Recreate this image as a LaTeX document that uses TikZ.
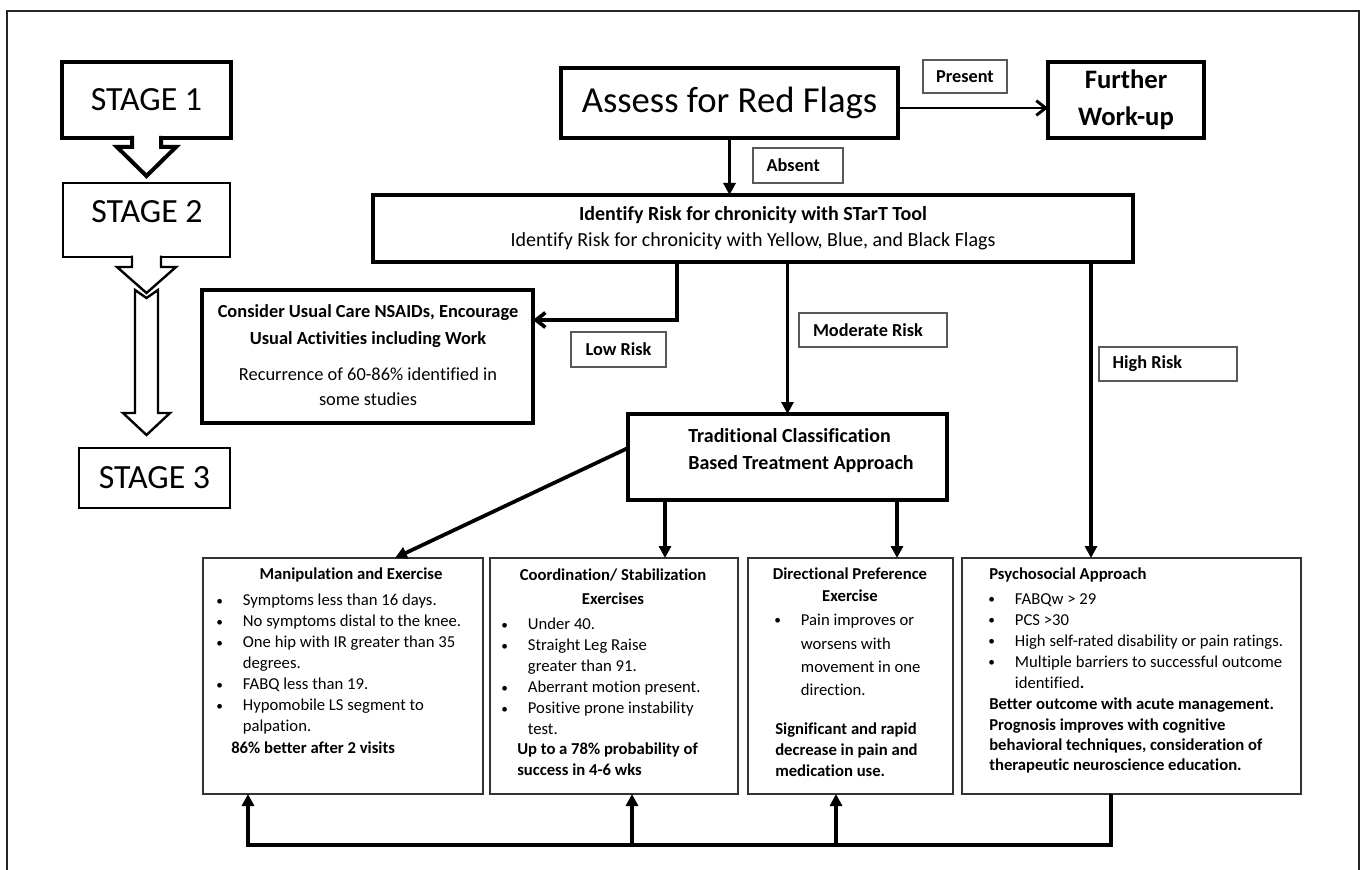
\documentclass[tikz,border=0pt]{standalone}
\usepackage{fontspec}
\setmainfont{Carlito}[Ligatures = NoCommon]
\usetikzlibrary{arrows.meta}

\newcommand{\bul}{\makebox[20pt][l]{\raisebox{0.6pt}{\fontsize{10}{10}\selectfont\textbullet}}}
\newcommand{\cont}{\hspace*{20pt}}

\begin{document}
\begin{tikzpicture}[
        x = 0.75pt, y = -0.75pt,
        corners/.style n args = {4}{
            at = {({(#1+#3)/2},{(#2+#4)/2})},
            minimum width = {(#3-#1)*0.75pt},
            minimum height = {(#4-#2)*0.75pt}
        },
        mainbox/.style = {
            draw,
            rectangle,
            line width = #1,
            inner sep = 0pt,
            outer sep = 0pt
        },
        mainbox/.default = 3.2pt,
        stagebox/.style = {
            draw,
            rectangle,
            line width = #1,
            inner sep = 0pt,
            outer sep = 0pt,
            font = \fontsize{25.4}{30}\selectfont
        },
        stagebox/.default = 1.8pt,
        tagbox/.style = {
            draw = black!65,
            rectangle,
            line width = 1.1pt,
            inner sep = 0pt,
            outer sep = 0pt,
            font = \fontsize{13.7}{16}\selectfont\bfseries
        },
        tagleft/.style = {text width = #1, align = flush left},
        infobox/.style = {
            draw = black!80,
            rectangle,
            line width = 1.4pt,
            inner sep = 0pt,
            outer sep = 0pt
        },
        listtext/.style = {
            inner sep = 0pt,
            align = left,
            anchor = north west,
            font = \fontsize{12.5}{#1}\selectfont
        },
        listtext/.default = 15.75pt,
        titletext/.style = {
            inner sep = 0pt,
            align = center,
            font = \fontsize{12.5}{#1}\selectfont\bfseries
        },
        titletext/.default = 18pt,
        flow/.style = {line width = 2.8pt, -{Triangle[length = 9pt, width = 9pt]}},
        barbflow/.style = {line width = #1, -{Straight Barb[length = 7pt, width = 11pt]}},
        barbflow/.default = 2.2pt,
        blockarrow/.style = {fill = white, line width = #1, line join = miter},
        blockarrow/.default = 1.8pt
        ]
%
        \useasboundingbox (0,0) rectangle (1364,870);
        \draw[line width = 2.2pt, black!85] (7,876) -- (7,11) -- (1359,11) -- (1359,876);
%
% stages on the left
        \node[stagebox = 3pt, corners = {62}{62}{231}{138}] (stage1) {STAGE 1};
        \filldraw[blockarrow = 3pt, shift = {(stage1.south)}]
            (-14.5,-2) -- (-14.5,9) -- (-29.5,9) -- (0,38) -- (29.5,9) -- (14.5,9) -- (14.5,-2);
%
        \node[stagebox, corners = {63}{183}{230}{257}] (stage2) {};
        \node[font = \fontsize{25.4}{30}\selectfont] (stage2text) at (147,212) {STAGE 2};
        \filldraw[blockarrow, shift = {(stage2.south)}]
            (-14.5,-1.5) -- (-14.5,10) -- (-29.5,10) -- (0,36) -- (29.5,10) -- (14.5,10) -- (14.5,-1.5);
        \filldraw[blockarrow, shift = {(stage2.south)}]
            (-11.5,33) -- (0,41) -- (11.5,33) -- (11.5,156) -- (23.5,156) -- (0,178)
            -- (-23.5,156) -- (-11.5,156) -- cycle;
%
        \node[stagebox, corners = {79}{448}{230}{508}] (stage3) {STAGE 3};
%
% red flags
        \node[mainbox = 3.6pt, corners = {561}{68}{898}{138},
              font = \fontsize{27.5}{32}\selectfont] (assess) {Assess for Red Flags};
        \node[mainbox = 3.6pt, corners = {1048}{62}{1204}{138}, align = center,
              font = \fontsize{20}{27.75}\selectfont\bfseries] (further) {Further\\Work-up};
        \node[tagbox, corners = {923}{60}{1007}{93}] (present) {Present};
        \node[tagbox, corners = {753}{148}{843}{183}, tagleft = 47pt] (absent) {Absent};
%
% risk
        \node[mainbox = 3pt, corners = {373}{195}{1133}{262}, align = center,
              font = \fontsize{15}{19.5}\selectfont] (start)
              {\textbf{Identify Risk for chronicity with STarT Tool}\\
               Identify Risk for chronicity with Yellow, Blue, and Black Flags};
%
        \node[mainbox, corners = {202}{290}{533}{423}] (consider) {};
        \node[inner sep = 0pt, align = center, font = \fontsize{13.8}{20.25}\selectfont\bfseries] (considerA) at (368,326)
              {Consider Usual Care NSAIDs, Encourage\\Usual Activities including Work};
        \node[inner sep = 0pt, align = center, font = \fontsize{13.8}{18.75}\selectfont] (considerB) at (368,386.5)
              {Recurrence of 60-86\% identified in\\some studies};
%
        \node[tagbox, corners = {571}{332}{666}{367}] (lowrisk) {Low Risk};
        \node[tagbox, corners = {799}{313}{947}{347}, tagleft = 90pt] (modrisk) {Moderate Risk};
        \node[tagbox, corners = {1099}{347}{1237}{381}, tagleft = 83pt] (highrisk) {High Risk};
%
        \node[mainbox, corners = {628}{414}{947}{500}] (trad) {};
        \node[inner sep = 0pt, align = left, font = \fontsize{15}{20.25}\selectfont\bfseries] (tradtext) at (801,450.5)
              {Traditional Classification\\Based Treatment Approach};
%
% treatment boxes
        \node[infobox, corners = {203}{558}{483}{794}] (manip) {};
        \node[infobox, corners = {490}{558}{738}{794}] (coord) {};
        \node[infobox, corners = {748}{558}{953}{794}] (direct) {};
        \node[infobox, corners = {962}{558}{1301}{794}] (psycho) {};
%
        \node[titletext] (manipT) at (351,575) {Manipulation and Exercise};
        \node[listtext] (manipL) at (216,594)
              {\bul Symptoms less than 16 days.\\
               \bul No symptoms distal to the knee.\\
               \bul One hip with IR greater than 35\\
               \cont degrees.\\
               \bul FABQ less than 19.\\
               \bul Hypomobile LS segment to\\
               \cont palpation.};
        \node[titletext, anchor = west] (manipR) at (231,748) {86\% better after 2 visits};
%
        \node[titletext] (coordT) at (613,587) {Coordination/ Stabilization\\Exercises};
        \node[listtext] (coordL) at (501,618)
              {\bul Under 40.\\
               \bul Straight Leg Raise\\
               \cont greater than 91.\\
               \bul Aberrant motion present.\\
               \bul Positive prone instability\\
               \cont test.};
        \node[titletext = 15.75pt, anchor = north west, align = left] (coordR) at (517,743)
              {Up to a 78\% probability of\\success in 4-6 wks};
%
        \node[titletext = 16.5pt] (directT) at (850,585) {Directional Preference\\Exercise};
        \node[listtext = 17.5pt] (directL) at (774,614)
              {\bul Pain improves or\\
               \cont worsens with\\
               \cont movement in one\\
               \cont direction.};
        \node[titletext = 15.4pt, anchor = north west, align = left] (directR) at (775,723)
              {Significant and rapid\\decrease in pain and\\medication use.};
%
        \node[titletext, anchor = west] (psychoT) at (989,575) {Psychosocial Approach};
        \node[listtext] (psychoL) at (988,593)
              {\bul FABQw > 29\\
               \bul PCS >30\\
               \bul High self-rated disability or pain ratings.\\
               \bul Multiple barriers to successful outcome\\
               \cont identified\textbf{.}};
        \node[titletext = 15.25pt, anchor = north west, align = left] (psychoR) at (989,698)
              {Better outcome with acute management.\\
               Prognosis improves with cognitive\\
               behavioral techniques, consideration of\\
               therapeutic neuroscience education.};
%
% connectors
        \coordinate (lowbend) at (677,320);
        \coordinate (highdrop) at (1091,0);
        \coordinate (coordin) at (665,0);
        \coordinate (directin) at (897,0);
        \coordinate (manipin) at (395,0);
        \coordinate (loopR) at (1111,845);
        \coordinate (loopL) at (248,845);
        \coordinate (loopC) at (632,845);
        \coordinate (loopD) at (836,845);
%
        \draw[flow] (assess.south) -- (assess.south |- start.north);
        \draw[barbflow] ([yshift=-3.75pt]assess.east) -- ([yshift=-3.75pt]assess.east -| further.west);
%
        \draw[barbflow = 2.8pt] (start.south -| lowbend) |- (consider.east |- lowbend);
        \draw[flow] (start.south -| trad.north) -- (trad.north);
        \draw[flow] (start.south -| highdrop) -- (psycho.north -| highdrop);
%
        \draw[flow] ([yshift=6.75pt]trad.west) -- (manip.north -| manipin);
        \draw[flow] (trad.south -| coordin) -- (coord.north -| coordin);
        \draw[flow] (trad.south -| directin) -- (direct.north -| directin);
%
        \draw[flow] (psycho.south -| loopR) -- (loopR) -- (loopL) -- (manip.south -| loopL);
        \draw[flow] (loopC) -- (coord.south -| loopC);
        \draw[flow] (loopD) -- (direct.south -| loopD);
%
    \end{tikzpicture}
\end{document}
